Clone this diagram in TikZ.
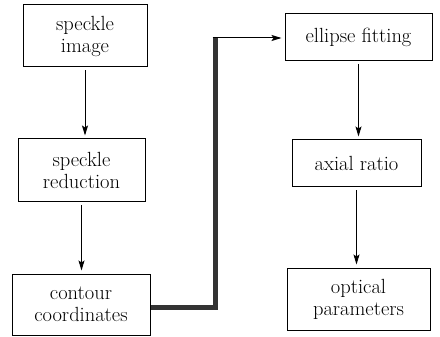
\documentclass[tikz,border=0pt]{standalone}
\usepackage{fontspec}
\usetikzlibrary{arrows.meta,calc}
\begin{document}
\begin{tikzpicture}[x=1pt,y=-1pt,
  box/.style={draw=black,line width=1pt,inner sep=0pt,align=center,font=\fontsize{20.5}{22}\selectfont},
  arr/.style={line width=1pt,-{Stealth[length=10pt,width=6pt,inset=2pt]},shorten <=3pt,shorten >=3pt},
  thick line/.style={line width=5pt,draw=black!80}]
\useasboundingbox[fill=white] (0,0) rectangle (440,337);
\node[box,minimum width=124pt,minimum height=62pt] (A) at (85,36) {speckle\\image};
\node[box,minimum width=127pt,minimum height=63pt] (B) at (81.5,170.5) {speckle\\reduction};
\node[box,minimum width=138pt,minimum height=61pt] (C) at (81,304.5) {contour\\coordinates};
\node[box,minimum width=147pt,minimum height=47pt] (D) at (358.5,37) {ellipse fitting};
\node[box,minimum width=129pt,minimum height=47pt] (E) at (356.5,163.5) {axial ratio};
\node[box,minimum width=143pt,minimum height=62pt] (F) at (358.5,299) {optical\\parameters};
\coordinate (K1) at (215,307);
\coordinate (K2) at (215,38);
\draw[arr] (A.south) -- (A.south |- B.north);
\draw[arr] (B.south) -- (B.south |- C.north);
\draw[arr] (D.south) -- (D.south |- E.north);
\draw[arr] (E.south) -- (E.south |- F.north);
\draw[thick line] (C.east |- K1) -- (K1) -- (K2);
\draw[arr,shorten <=0pt] ($(K2)+(-2.5,0)$) -- (K2 -| D.west);
\end{tikzpicture}
\end{document}
